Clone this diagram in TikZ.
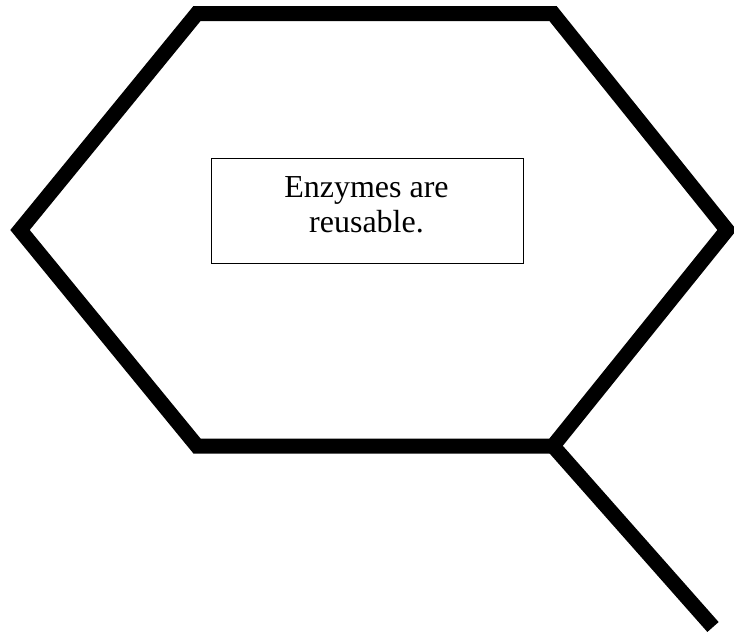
\documentclass[tikz,border=0pt]{standalone}
\usepackage{fontspec}
\setmainfont{Liberation Serif}
\begin{document}
\begin{tikzpicture}[x=1pt,y=-1pt,
  outline/.style={line width=15pt,line join=miter,black},
  boxstyle/.style={draw,line width=1pt,minimum width=312pt,minimum height=105pt,inner sep=0pt},
  label/.style={align=center,font=\fontsize{32}{35}\selectfont,inner sep=0pt}]
\useasboundingbox (0,0) rectangle (734,633);
\coordinate (p1) at (197,13.5);
\coordinate (p2) at (553,13.5);
\coordinate (p3) at (727,230);
\coordinate (p4) at (553,446);
\coordinate (p5) at (197,446);
\coordinate (p6) at (20,230);
\coordinate (tail) at (713,627);
\draw[outline] (p1) -- (p2) -- (p3) -- (p4) -- (p5) -- (p6) -- cycle;
\draw[outline] (p4) -- (tail);
\node[boxstyle] (box) at (367,210.5) {};
\node[label] (txt) at (366.5,205) {Enzymes are\\reusable.};
\end{tikzpicture}
\end{document}
